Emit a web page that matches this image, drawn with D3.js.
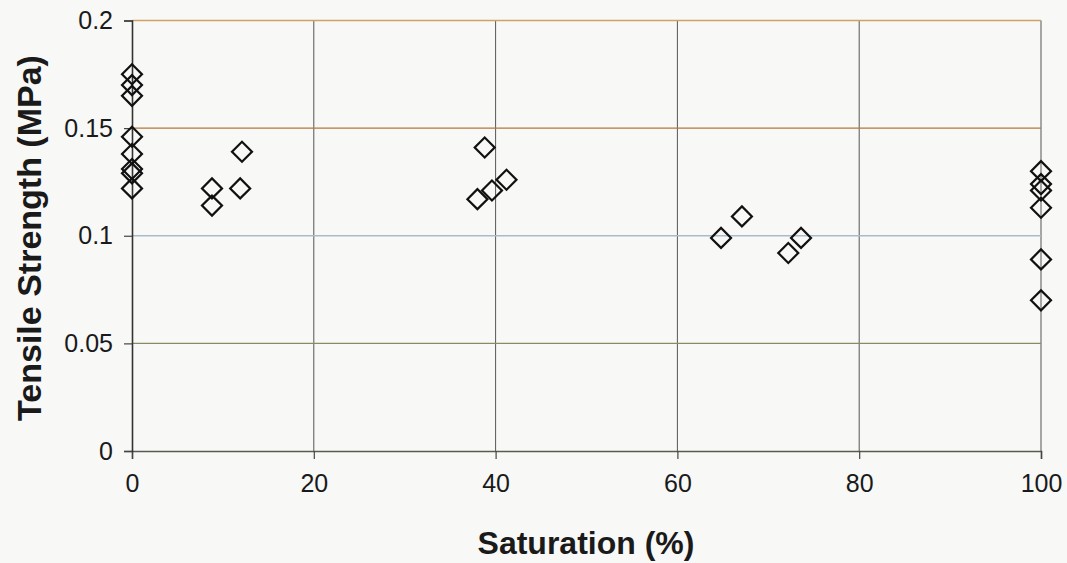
<!DOCTYPE html>
<html>
<head>
<meta charset="utf-8">
<script src="https://cdn.jsdelivr.net/npm/d3@7"></script>
<style>
  html, body { margin: 0; padding: 0; background: #f8f8f7; }
  svg { display: block; font-family: "Liberation Sans", Arial, sans-serif; }
</style>
</head>
<body>
<svg id="chart" width="1067" height="563"></svg>
<script>
// Saturation (%) of each specimen
const saturation = [
  0, 0, 0, 0, 0, 0, 0, 0,
  8.8, 8.8, 11.9, 12.1,
  38.0, 38.8, 39.6, 41.2,
  64.8, 67.1, 72.2, 73.6,
  100, 100, 100, 100, 100, 100
];
// Measured tensile strength (MPa) for each specimen
const tensileStrength = [
  0.175, 0.170, 0.165, 0.146, 0.138, 0.131, 0.129, 0.122,
  0.122, 0.114, 0.122, 0.139,
  0.117, 0.141, 0.121, 0.126,
  0.099, 0.109, 0.092, 0.099,
  0.130, 0.124, 0.121, 0.113, 0.089, 0.070
];
const xTicks = [0, 20, 40, 60, 80, 100];
const yTicks = [0, 0.05, 0.1, 0.15, 0.2];
// Horizontal grid line tints, one per y tick
const yGridColors = ["#555555", "#8c8a62", "#a6bccb", "#b4793c", "#cfa266"];

const svg = d3.select("#chart");
const x = d3.scaleLinear().domain([0, 100]).range([132, 1041]);
const y = d3.scaleLinear().domain([0, 0.2]).range([451, 20.5]);

// Vertical grid lines
svg.append("g")
  .selectAll("line")
  .data(xTicks.slice(1))
  .join("line")
  .attr("x1", d => x(d)).attr("x2", d => x(d))
  .attr("y1", y(0)).attr("y2", y(0.2))
  .attr("stroke", "#555").attr("stroke-width", 1);

// Horizontal grid lines
svg.append("g")
  .selectAll("line")
  .data(yTicks.slice(1))
  .join("line")
  .attr("x1", x(0)).attr("x2", x(100))
  .attr("y1", d => y(d)).attr("y2", d => y(d))
  .attr("stroke", (d, i) => yGridColors[i + 1]).attr("stroke-width", 1.3);

// Axes
const xAxis = svg.append("g")
  .attr("transform", `translate(0,${y(0)})`)
  .call(d3.axisBottom(x).tickValues(xTicks).tickSize(8).tickPadding(15).tickFormat(d3.format("d")));
const yAxis = svg.append("g")
  .attr("transform", `translate(${x(0)},0)`)
  .call(d3.axisLeft(y).tickValues(yTicks).tickSize(8).tickPadding(11).tickFormat(d => String(d)));

[xAxis, yAxis].forEach(g => {
  g.select(".domain").attr("stroke", "#333").attr("stroke-width", 1.6);
  g.selectAll(".tick line").attr("stroke", "#444").attr("stroke-width", 1.2);
  g.selectAll("text")
    .attr("fill", "#1a1a1a")
    .attr("font-size", 25)
    .attr("font-family", "'Liberation Sans', Arial, sans-serif");
});
xAxis.select(".domain").attr("stroke", "#5a5a50");

// Diamond markers
const diamond = d3.symbol().type(d3.symbolSquare).size(200);
svg.append("g")
  .selectAll("path")
  .data(saturation.map((s, i) => [s, tensileStrength[i]]))
  .join("path")
  .attr("d", diamond)
  .attr("transform", d => `translate(${x(d[0])},${y(d[1])}) rotate(45)`)
  .attr("fill", "none")
  .attr("stroke", "#111")
  .attr("stroke-width", 2.2);

// Axis titles
svg.append("text")
  .attr("x", 586).attr("y", 554)
  .attr("text-anchor", "middle")
  .attr("font-size", 32).attr("font-weight", "bold")
  .attr("fill", "#1a1a1a")
  .text("Saturation (%)");

svg.append("text")
  .attr("transform", "translate(41,238) rotate(-90)")
  .attr("text-anchor", "middle")
  .attr("font-size", 34).attr("font-weight", "bold")
  .attr("fill", "#1a1a1a")
  .text("Tensile Strength (MPa)");
</script>
</body>
</html>
